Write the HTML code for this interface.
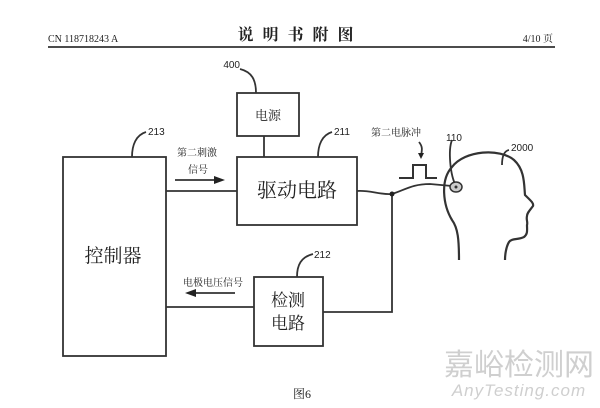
<!DOCTYPE html>
<html><head><meta charset="utf-8"><style>
body{margin:0;background:#fff;width:600px;height:403px;overflow:hidden}
text{font-family:"Liberation Serif","Noto Serif CJK SC","Noto Sans CJK SC",serif;fill:#222}
</style></head><body>
<svg width="600" height="403" viewBox="0 0 600 403" xmlns="http://www.w3.org/2000/svg">
<rect width="600" height="403" fill="#fff"/>
<text x="48" y="42" font-size="10">CN 118718243 A</text>
<text x="300" y="40" font-size="16" font-weight="bold" text-anchor="middle" letter-spacing="9">说明书附图</text>
<text x="553" y="42" font-size="10" text-anchor="end">4/10 页</text>
<line x1="48" y1="47" x2="555" y2="47" stroke="#333" stroke-width="1.8"/>
<g fill="none" stroke="#333" stroke-width="1.8">
<rect x="237" y="93" width="62" height="43"/>
<rect x="63" y="157" width="103" height="199"/>
<rect x="237" y="157" width="120" height="68"/>
<rect x="254" y="277" width="69" height="69"/>
<line x1="264" y1="136" x2="264" y2="157"/>
<line x1="166" y1="191" x2="237" y2="191"/>
<line x1="166" y1="307" x2="254" y2="307"/>
<polyline points="323,312 392,312 392,194"/>
<path d="M357,191 C370,190 380,195 392,194 C405,190 412,184 430,184 L452,186"/>
<polyline points="399,178 413,178 413,165 426,165 426,178 437,178" stroke-width="2"/>
<path d="M240,69 C252,72 256,80 256,93"/>
<path d="M132,157 C132,145 136,135 146,132"/>
<path d="M318,157 C318,145 322,135 332,132"/>
<path d="M297,277 C297,265 301,257 313,254"/>
<path d="M452,140 C448,150 450,175 456,186"/>
<path d="M509,150 C504,151 502,156 502,165"/>
<path d="M419,142 C423,147 422,150 421,156"/>
<path d="M459,260 C459,240 458,228 452,220 C443,205 440,180 452,167 C465,150 500,148 514,160 C525,170 524,185 525,195 C530,200 534,203 533,206 C530,210 527,213 527,216 C526,220 528,222 527,225 C527,230 528,234 524,237 C518,240 512,238 509,242 C506,247 505,255 505,260" stroke-width="2.2"/>
<line x1="175" y1="180" x2="215" y2="180"/>
<line x1="235" y1="293" x2="195" y2="293"/>
</g>
<ellipse cx="456" cy="187" rx="6" ry="5" fill="#ccc" stroke="#333" stroke-width="1.5"/>
<circle cx="456" cy="187" r="1.5" fill="#333"/>
<circle cx="392" cy="194" r="2.5" fill="#222"/>
<polygon points="225,180 214,176 214,184" fill="#222"/>
<polygon points="185,293 196,289 196,297" fill="#222"/>
<polygon points="421,159 418,153 424,153" fill="#222"/>
<g>
<text x="240" y="68" text-anchor="end" font-size="10" style="font-family:'Liberation Sans',sans-serif">400</text>
<text x="148" y="135" font-size="10" style="font-family:'Liberation Sans',sans-serif">213</text>
<text x="334" y="135" font-size="10" style="font-family:'Liberation Sans',sans-serif">211</text>
<text x="314" y="258" font-size="10" style="font-family:'Liberation Sans',sans-serif">212</text>
<text x="446" y="141" font-size="10" style="font-family:'Liberation Sans',sans-serif">110</text>
<text x="511" y="151" font-size="10" style="font-family:'Liberation Sans',sans-serif">2000</text>
</g>
<text x="268" y="120" font-size="13" text-anchor="middle">电源</text>
<text x="297" y="197" font-size="20" text-anchor="middle">驱动电路</text>
<text x="113" y="262" font-size="19" text-anchor="middle">控制器</text>
<text x="288" y="306" font-size="17" text-anchor="middle">检测</text>
<text x="288" y="329" font-size="17" text-anchor="middle">电路</text>
<text x="197" y="156" font-size="10" text-anchor="middle">第二刺激</text>
<text x="198" y="173" font-size="10" text-anchor="middle">信号</text>
<text x="213" y="286" font-size="10" text-anchor="middle">电极电压信号</text>
<text x="396" y="136" font-size="10" text-anchor="middle">第二电脉冲</text>
<text x="302" y="398" font-size="12" text-anchor="middle">图6</text>
<text x="519" y="375" font-size="30" text-anchor="middle" style="fill:#cfcfcf;font-family:'Liberation Sans','Noto Sans CJK SC',sans-serif">嘉峪检测网</text>
<text x="519" y="396" font-size="17" font-style="italic" text-anchor="middle" style="fill:#cfcfcf;font-family:'Liberation Sans',sans-serif" letter-spacing="1">AnyTesting.com</text>
</svg>
</body></html>
